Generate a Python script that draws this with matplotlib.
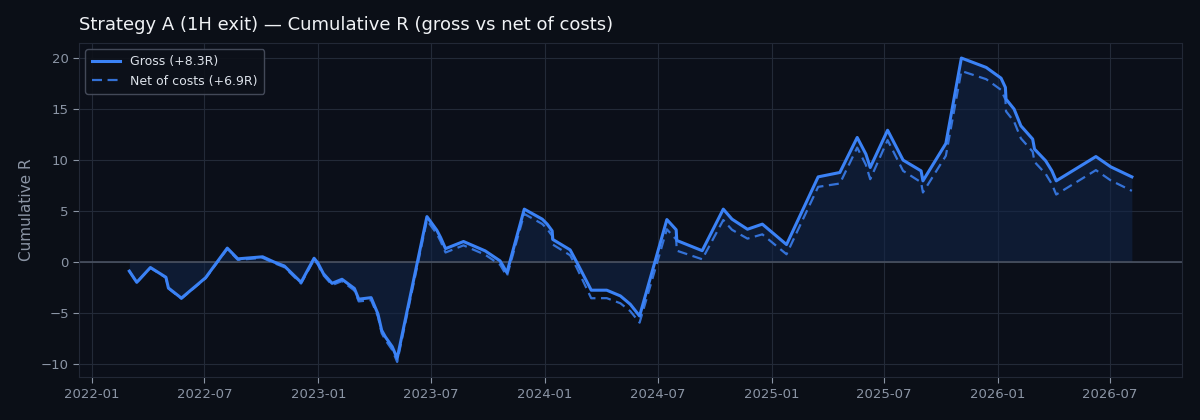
import matplotlib
matplotlib.use("Agg")
import matplotlib.pyplot as plt
import matplotlib.dates as mdates
import numpy as np
import pandas as pd

dates = [
    "2022-03-02", "2022-03-14", "2022-04-05", "2022-04-30", "2022-05-04", "2022-05-25",
    "2022-07-03", "2022-08-07", "2022-08-24", "2022-10-03", "2022-10-21", "2022-11-07",
    "2022-12-04", "2022-12-25", "2022-12-31", "2023-01-09", "2023-01-23", "2023-02-08",
    "2023-02-28", "2023-03-07", "2023-03-27", "2023-04-07", "2023-04-13", "2023-04-19",
    "2023-04-30", "2023-05-08", "2023-06-25", "2023-07-11", "2023-07-17", "2023-07-25",
    "2023-08-23", "2023-09-27", "2023-10-21", "2023-11-01", "2023-11-29", "2023-12-28",
    "2024-01-05", "2024-01-13", "2024-01-14", "2024-02-11", "2024-02-22", "2024-03-16",
    "2024-04-10", "2024-05-02", "2024-05-18", "2024-06-02", "2024-07-16", "2024-07-31",
    "2024-08-01", "2024-09-11", "2024-10-15", "2024-10-29", "2024-11-23", "2024-12-17",
    "2025-01-25", "2025-03-17", "2025-04-21", "2025-05-19", "2025-06-02", "2025-06-09",
    "2025-07-07", "2025-08-01", "2025-08-30", "2025-09-02", "2025-10-09", "2025-11-03",
    "2025-12-13", "2026-01-06", "2026-01-13", "2026-01-14", "2026-01-27", "2026-02-07",
    "2026-02-26", "2026-03-01", "2026-03-19", "2026-03-29", "2026-04-05", "2026-06-08",
    "2026-07-02", "2026-08-05",
]

gross = [
    -0.90, -2.00, -0.55, -1.50, -2.55, -3.55,
    -1.55, 1.35, 0.30, 0.50, 0.00, -0.40,
    -2.00, 0.36, -0.10, -1.15, -2.10, -1.70,
    -2.60, -3.65, -3.50, -5.10, -6.70, -7.35,
    -8.30, -9.45, 4.44, 3.10, 2.40, 1.30,
    2.00, 1.08, 0.10, -1.05, 5.17, 4.19,
    3.70, 3.04, 2.20, 1.18, -0.07, -2.77,
    -2.77, -3.33, -4.15, -5.30, 4.15, 3.15,
    2.10, 1.10, 5.17, 4.19, 3.20, 3.70,
    1.70, 8.33, 8.76, 12.19, 10.56, 9.25,
    12.90, 9.97, 8.92, 7.94, 11.60, 19.97,
    19.05, 18.00, 17.09, 15.95, 14.97, 13.33,
    12.03, 11.05, 9.90, 8.92, 7.94, 10.32,
    9.31, 8.33,
]

net = [
    -0.90, -2.02, -0.58, -1.55, -2.60, -3.60,
    -1.61, 1.27, 0.20, 0.40, -0.10, -0.52,
    -2.12, 0.22, -0.25, -1.30, -2.27, -1.88,
    -2.80, -3.87, -3.74, -5.36, -6.98, -7.65,
    -8.62, -9.80, 4.08, 2.74, 2.03, 0.92,
    1.62, 0.70, -0.28, -1.40, 4.70, 3.72,
    3.22, 2.55, 1.70, 0.65, -0.62, -3.56,
    -3.55, -4.05, -4.82, -5.95, 3.20, 2.20,
    1.10, 0.26, 4.10, 3.15, 2.28, 2.70,
    0.75, 7.35, 7.68, 11.20, 9.50, 8.10,
    11.93, 8.92, 7.80, 6.80, 10.40, 18.70,
    17.90, 16.85, 15.92, 14.75, 13.75, 12.10,
    10.80, 9.80, 8.62, 7.62, 6.60, 8.99,
    7.98, 6.96,
]

gross_label = "Gross (+8.3R)"
net_label = "Net of costs (+6.9R)"
title = "Strategy A (1H exit) \u2014 Cumulative R (gross vs net of costs)"
ylabel = "Cumulative R"

x = pd.to_datetime(dates)
g = np.array(gross)
n = np.array(net)

BG = "#0b0f17"
AX_BG = "#0b0f19"
GRID = "#232a38"
TICK = "#8b95a5"
LINE = "#3b82f6"

fig = plt.figure(figsize=(12, 4.2), dpi=100, facecolor=BG)
ax = fig.add_axes([0.066, 0.102, 0.919, 0.796])
ax.set_facecolor(AX_BG)

ax.fill_between(x, g, 0, color="#12264a", alpha=0.55, linewidth=0, zorder=1)
ax.plot(x, g, color=LINE, linewidth=2.2, label=gross_label, zorder=3)
ax.plot(x, n, color=LINE, linewidth=1.6, linestyle=(0, (4.5, 2.5)), alpha=0.85,
        label=net_label, zorder=2)
ax.axhline(0, color="#4a5261", linewidth=1.2, zorder=1.5)

ax.grid(True, color=GRID, linewidth=0.8, zorder=0)
ax.set_axisbelow(True)
for s in ax.spines.values():
    s.set_color("#222836")
    s.set_linewidth(0.8)

ax.xaxis.set_major_locator(mdates.MonthLocator(bymonth=[1, 7]))
ax.xaxis.set_major_formatter(mdates.DateFormatter("%Y-%m"))
ax.tick_params(axis="both", colors=TICK, labelsize=9.5, length=4, width=0.8)
for lab in ax.get_xticklabels() + ax.get_yticklabels():
    lab.set_color(TICK)

ax.set_ylabel(ylabel, color="#8b95a5", fontsize=11, labelpad=5)
ax.set_title(title, loc="left", color="#f0f2f5", fontsize=13, pad=9)

leg = ax.legend(loc="upper left", fontsize=9, frameon=True, facecolor="#0d1119",
                edgecolor="#4a5060", labelcolor="#dde2ea", framealpha=0.9,
                borderpad=0.5, handlelength=2.3)
leg.get_frame().set_linewidth(1.0)

fig.savefig("out.png", dpi=100, facecolor=BG)
